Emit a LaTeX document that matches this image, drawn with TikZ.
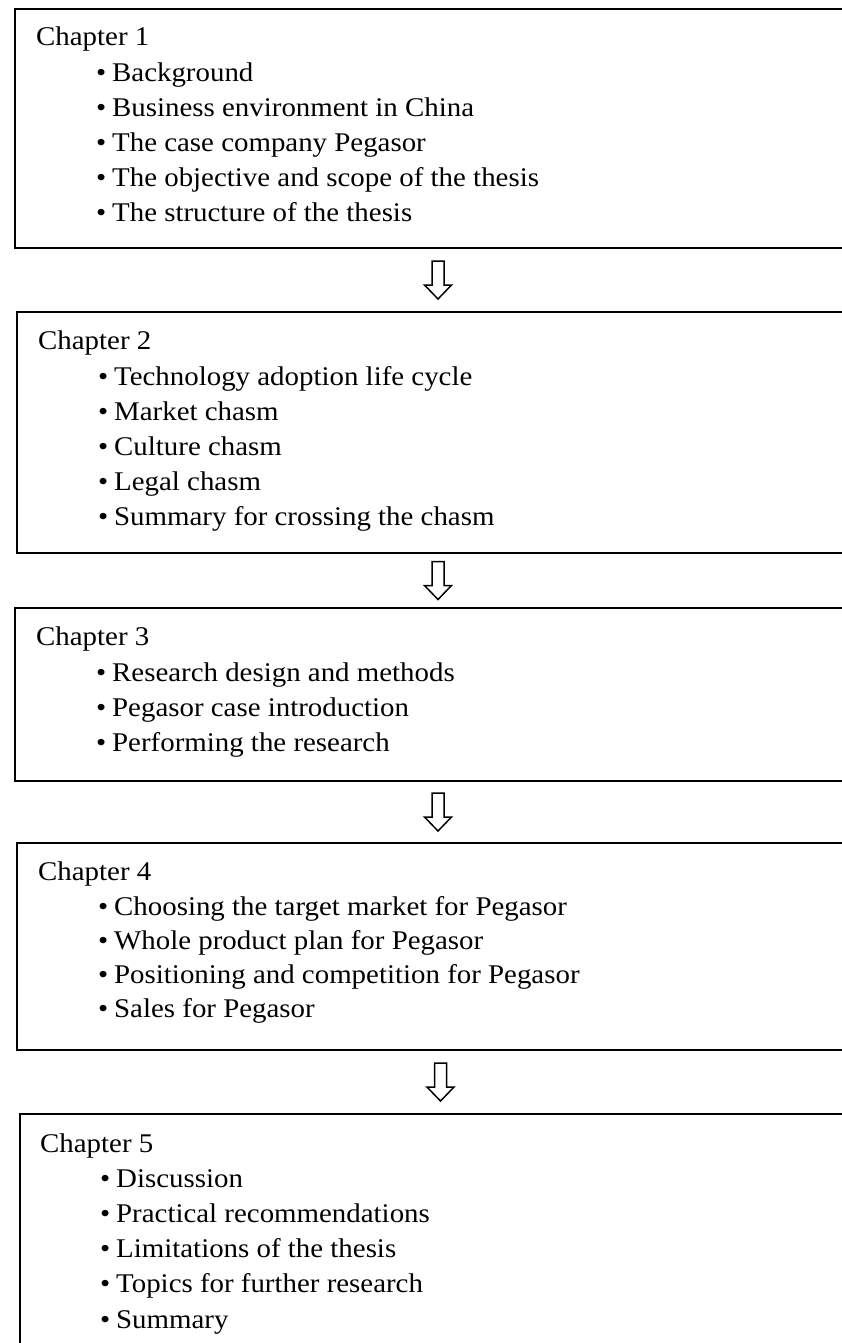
\documentclass[tikz,border=0pt]{standalone}
\usepackage{fontspec}
\setmainfont{Liberation Serif}[FakeStretch=1.07]
\usetikzlibrary{calc}
\begin{document}
\begin{tikzpicture}[x=1pt,y=-1pt,
  chapbox/.style={draw,line width=2pt,anchor=north west,minimum width=844pt,inner sep=0pt},
  headline/.style={anchor=base west,inner sep=0pt,font=\fontsize{27}{32}\selectfont},
  itemline/.style={anchor=base west,inner sep=0pt,font=\fontsize{27}{32}\selectfont},
  blockarrow/.pic={\draw[line width=1.5pt,line join=miter,fill=white]
    (-6,-19)--(6,-19)--(6,5)--(13.5,5)--(0,19)--(-13.5,5)--(-6,5)--cycle;}]
\useasboundingbox (0,0) rectangle (842,1343);
\clip (0,0) rectangle (842,1343);
% chapter boxes
\node[chapbox,minimum height=239pt] (b1) at (14,8) {};
\node[chapbox,minimum height=241pt] (b2) at (16,311) {};
\node[chapbox,minimum height=173pt] (b3) at (14,607) {};
\node[chapbox,minimum height=207pt] (b4) at (16,842) {};
\node[chapbox,minimum height=260pt] (b5) at (19,1113) {};
% headings and items
\node[headline] (h1) at ([xshift=22pt,yshift=-38pt]b1.north west) {Chapter 1};
\foreach \txt [count=\i] in {Background,Business environment in China,The case company Pegasor,The objective and scope of the thesis,The structure of the thesis}
  \node[itemline] (i1-\i) at ([xshift=82pt,yshift={-(39+35*\i)*1pt}]b1.north west) {\makebox[16pt][l]{•}\txt};
\node[headline] (h2) at ([xshift=22pt,yshift=-38pt]b2.north west) {Chapter 2};
\foreach \txt [count=\i] in {Technology adoption life cycle,Market chasm,Culture chasm,Legal chasm,Summary for crossing the chasm}
  \node[itemline] (i2-\i) at ([xshift=82pt,yshift={-(39+35*\i)*1pt}]b2.north west) {\makebox[16pt][l]{•}\txt};
\node[headline] (h3) at ([xshift=22pt,yshift=-38pt]b3.north west) {Chapter 3};
\foreach \txt [count=\i] in {Research design and methods,Pegasor case introduction,Performing the research}
  \node[itemline] (i3-\i) at ([xshift=82pt,yshift={-(39+35*\i)*1pt}]b3.north west) {\makebox[16pt][l]{•}\txt};
\node[headline] (h4) at ([xshift=22pt,yshift=-38pt]b4.north west) {Chapter 4};
\foreach \txt [count=\i] in {Choosing the target market for Pegasor,Whole product plan for Pegasor,Positioning and competition for Pegasor,Sales for Pegasor}
  \node[itemline] (i4-\i) at ([xshift=82pt,yshift={-(39+34*\i)*1pt}]b4.north west) {\makebox[16pt][l]{•}\txt};
\node[headline] (h5) at ([xshift=21pt,yshift=-39pt]b5.north west) {Chapter 5};
\foreach \txt [count=\i] in {Discussion,Practical recommendations,Limitations of the thesis,Topics for further research,Summary}
  \node[itemline] (i5-\i) at ([xshift=81pt,yshift={-(39+35.2*\i)*1pt}]b5.north west) {\makebox[16pt][l]{•}\txt};
% arrows between chapters
\pic at ($(b1.south)!0.5!(b2.north)$) {blockarrow};
\pic at ($(b2.south)!0.5!(b3.north)$) {blockarrow};
\pic at ($(b3.south)!0.5!(b4.north)$) {blockarrow};
\pic at ($(b4.south)!0.5!(b5.north)$) {blockarrow};
\end{tikzpicture}
\end{document}
